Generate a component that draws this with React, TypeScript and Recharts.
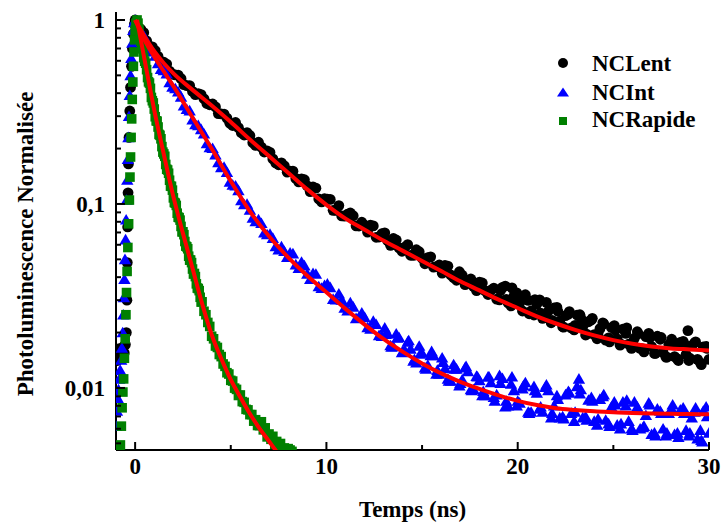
import React from 'react';
import { ComposedChart, Scatter, XAxis, YAxis, Legend } from 'recharts';

const FONT = '"Liberation Serif", "Times New Roman", Times, serif';

// time (ns), normalised PL  — NCLent (black circles)
const ncLentPts: [number, number][] = [
  [-0.98, 0.0152], [-0.93, 0.0141], [-0.87, 0.0163], [-0.81, 0.0148], [-0.75, 0.0158], [-0.69, 0.0145],
  [-0.63, 0.0167], [-0.57, 0.0155], [-0.51, 0.0172], [-0.46, 0.02], [-0.43, 0.03], [-0.41, 0.048],
  [-0.39, 0.075], [-0.37, 0.115], [-0.35, 0.165], [-0.32, 0.23], [-0.28, 0.32], [-0.24, 0.43],
  [-0.19, 0.56], [-0.14, 0.7], [-0.09, 0.84], [-0.04, 0.95],
  [0, 1.0], [0.3, 0.89], [0.6, 0.77], [0.9, 0.715], [1.2, 0.634], [1.5, 0.589], [1.8, 0.527], [2.1, 0.503],
  [2.4, 0.48], [2.7, 0.44], [3.0, 0.409], [3.3, 0.398], [3.6, 0.373], [3.9, 0.346], [4.2, 0.337], [4.5, 0.309],
  [4.8, 0.293], [5.1, 0.267], [5.4, 0.26], [5.7, 0.237], [6.0, 0.2355], [6.3, 0.208], [6.6, 0.2037], [6.9, 0.1945],
  [7.2, 0.1758], [7.5, 0.1633], [7.8, 0.161], [8.1, 0.151], [8.4, 0.1377], [8.7, 0.137], [9.0, 0.1253], [9.3, 0.1237],
  [9.6, 0.1064], [9.9, 0.1068], [10.2, 0.1059], [10.5, 0.0923], [10.8, 0.0861], [11.1, 0.0879], [11.4, 0.0863],
  [11.7, 0.0759], [12.0, 0.0766], [12.3, 0.0766], [12.6, 0.0659], [12.9, 0.0689], [13.2, 0.0632], [13.5, 0.0649],
  [13.8, 0.0577], [14.1, 0.0583], [14.4, 0.0526], [14.7, 0.0564], [15.0, 0.0507], [15.3, 0.0511], [15.6, 0.0454],
  [15.9, 0.0466], [16.2, 0.0463], [16.5, 0.0411], [16.8, 0.0385], [17.1, 0.041], [17.4, 0.0383], [17.7, 0.0355],
  [18.0, 0.0376], [18.3, 0.0337], [18.6, 0.034], [18.9, 0.0304], [19.2, 0.0352], [19.5, 0.029], [19.8, 0.0316],
  [20.1, 0.0289], [20.4, 0.0321], [20.7, 0.0262], [21.0, 0.0285], [21.3, 0.0239], [21.6, 0.0261], [21.9, 0.0272],
  [22.2, 0.0231], [22.5, 0.0247], [22.8, 0.0212], [23.1, 0.0249], [23.4, 0.0215], [23.7, 0.0229], [24.0, 0.0195],
  [24.3, 0.021], [24.6, 0.0182], [24.9, 0.0213], [25.2, 0.0185], [25.5, 0.0209], [25.8, 0.0173], [26.1, 0.0186],
  [26.4, 0.0164], [26.7, 0.019], [27.0, 0.0168], [27.3, 0.0191], [27.6, 0.0156], [27.9, 0.0172], [28.2, 0.0148],
  [28.5, 0.0177], [28.8, 0.0152], [28.9, 0.0205], [29.1, 0.017], [29.4, 0.0143], [29.7, 0.0167], [30.0, 0.0143],
];
const ncLentPtsB: [number, number][] = [
  [0.15, 0.918], [0.45, 0.853], [0.75, 0.721], [1.05, 0.682], [1.35, 0.592], [1.65, 0.576], [1.95, 0.5075],
  [2.25, 0.502], [2.55, 0.445], [2.85, 0.44], [3.15, 0.393], [3.45, 0.3926], [3.75, 0.3516], [4.05, 0.3496],
  [4.35, 0.31], [4.65, 0.3078], [4.95, 0.275], [5.25, 0.2773], [5.55, 0.2438], [5.85, 0.2443], [6.15, 0.2151],
  [6.45, 0.2166], [6.75, 0.1916], [7.05, 0.1907], [7.35, 0.1673], [7.65, 0.1673], [7.95, 0.1488], [8.25, 0.1508],
  [8.55, 0.1317], [8.85, 0.1354], [9.15, 0.1167], [9.45, 0.1219], [9.75, 0.1026], [10.05, 0.1062], [10.35, 0.0923],
  [10.65, 0.098], [10.95, 0.0859], [11.25, 0.0893], [11.55, 0.076], [11.85, 0.0796], [12.15, 0.0703], [12.45, 0.076],
  [12.75, 0.0661], [13.05, 0.0697], [13.35, 0.0596], [13.65, 0.0637], [13.95, 0.0553], [14.25, 0.0601],
  [14.55, 0.0525], [14.85, 0.055], [15.15, 0.0473], [15.45, 0.0516], [15.75, 0.0456], [16.05, 0.0421],
  [16.35, 0.0459], [16.65, 0.0397], [16.95, 0.0428], [17.25, 0.0364], [17.55, 0.0391], [17.85, 0.0338],
  [18.15, 0.0372], [18.45, 0.0322], [18.75, 0.0349], [19.05, 0.0301], [19.35, 0.0358], [19.65, 0.0279],
  [19.95, 0.0329], [20.25, 0.0262], [20.55, 0.0299], [20.85, 0.0249], [21.15, 0.0301], [21.45, 0.0244],
  [21.75, 0.0226], [22.05, 0.0274], [22.35, 0.0215], [22.65, 0.0252], [22.95, 0.0207], [23.25, 0.025],
  [23.55, 0.0194], [23.85, 0.0234], [24.15, 0.0185], [24.45, 0.0226], [24.75, 0.0187], [25.05, 0.0218],
  [25.35, 0.0171], [25.65, 0.0198], [25.95, 0.0164], [26.25, 0.0202], [26.55, 0.0163], [26.85, 0.0198],
  [27.15, 0.0154], [27.45, 0.0184], [27.75, 0.0147], [28.05, 0.0184], [28.35, 0.0144], [28.65, 0.0179],
  [28.95, 0.0141], [29.25, 0.0176], [29.55, 0.0137], [29.85, 0.0168],
];
const ncLentPtsC: [number, number][] = [
  [19.1, 0.0339], [19.4, 0.0303], [19.7, 0.035], [20.0, 0.0295], [20.3, 0.0314], [20.6, 0.0253], [20.9, 0.0302],
  [21.2, 0.0255], [21.5, 0.0292], [21.8, 0.0233], [22.1, 0.0261], [22.4, 0.0214], [22.7, 0.026], [23.0, 0.0219],
  [23.3, 0.024], [23.6, 0.0196], [23.9, 0.0239], [24.2, 0.0197], [24.5, 0.0223], [24.8, 0.0178], [25.1, 0.0206],
  [25.4, 0.0173], [25.7, 0.0212], [26.0, 0.0172], [26.3, 0.0197], [26.6, 0.0157], [26.9, 0.0187], [27.2, 0.0154],
  [27.5, 0.0188], [27.8, 0.0147], [28.1, 0.0174], [28.4, 0.0141], [28.7, 0.0174], [29.0, 0.0145], [29.3, 0.0178],
  [29.6, 0.0134], [29.9, 0.0164],
];

// NCInt (blue triangles)
const ncIntPts: [number, number][] = [
  [-0.99, 0.0062], [-0.95, 0.0075], [-0.91, 0.0088], [-0.87, 0.0098], [-0.83, 0.0112], [-0.78, 0.0125],
  [-0.73, 0.0142], [-0.69, 0.0165], [-0.65, 0.02], [-0.62, 0.025], [-0.59, 0.031], [-0.56, 0.039],
  [-0.53, 0.05], [-0.5, 0.064], [-0.47, 0.082], [-0.44, 0.105], [-0.41, 0.135], [-0.38, 0.175],
  [-0.35, 0.23], [-0.32, 0.3], [-0.28, 0.39], [-0.24, 0.5], [-0.2, 0.62], [-0.15, 0.75], [-0.1, 0.88], [-0.05, 0.97],
  [0, 1.0], [0.3, 0.871], [0.6, 0.731], [0.9, 0.673], [1.2, 0.581], [1.5, 0.532], [1.8, 0.457], [2.1, 0.424],
  [2.4, 0.382], [2.7, 0.327], [3.0, 0.287], [3.3, 0.2673], [3.6, 0.241], [3.9, 0.2028], [4.2, 0.1854], [4.5, 0.158],
  [4.8, 0.1486], [5.1, 0.127], [5.4, 0.1186], [5.7, 0.0994], [6.0, 0.0929], [6.3, 0.0803], [6.6, 0.0785], [6.9, 0.0683],
  [7.2, 0.0652], [7.5, 0.0564], [7.8, 0.0553], [8.1, 0.0543], [8.4, 0.0468], [8.7, 0.0484], [9.0, 0.0417], [9.3, 0.042],
  [9.6, 0.0356], [9.9, 0.0361], [10.2, 0.0352], [10.5, 0.0302], [10.8, 0.0301], [11.1, 0.0263], [11.4, 0.0276],
  [11.7, 0.0243], [12.0, 0.0242], [12.3, 0.0209], [12.6, 0.0222], [12.9, 0.0191], [13.2, 0.0198], [13.5, 0.0168],
  [13.8, 0.0188], [14.1, 0.016], [14.4, 0.0163], [14.7, 0.0137], [15.0, 0.0155], [15.3, 0.0133], [15.6, 0.015],
  [15.9, 0.0119], [16.2, 0.0128], [16.5, 0.0109], [16.8, 0.0127], [17.1, 0.0111], [17.4, 0.0123], [17.7, 0.0098],
  [18.0, 0.011], [18.3, 0.0091], [18.6, 0.0107], [18.9, 0.0092], [19.2, 0.0113], [19.5, 0.008], [19.8, 0.0097],
  [20.1, 0.0083], [20.4, 0.0107], [20.7, 0.0074], [21.0, 0.0094], [21.3, 0.0074], [21.6, 0.0097], [21.9, 0.008],
  [22.2, 0.0069], [22.5, 0.0092], [22.8, 0.0073], [23.1, 0.0102], [23.2, 0.0112], [23.4, 0.0069], [23.7, 0.0086],
  [24.0, 0.0066], [24.3, 0.0087], [24.6, 0.0067], [24.9, 0.0079], [25.2, 0.0063], [25.5, 0.0084], [25.8, 0.0066],
  [26.1, 0.0084], [26.4, 0.006], [26.7, 0.0071], [27.0, 0.0056], [27.3, 0.0077], [27.6, 0.006], [27.9, 0.0073],
  [28.2, 0.0056], [28.5, 0.0076], [28.8, 0.0059], [29.1, 0.0069], [29.4, 0.0053], [29.65, 0.0051], [29.7, 0.0075],
  [30.0, 0.0057],
];
const ncIntPtsB: [number, number][] = [
  [0.15, 0.906], [0.45, 0.818], [0.75, 0.681], [1.05, 0.637], [1.35, 0.54], [1.65, 0.51], [1.95, 0.4325],
  [2.25, 0.407], [2.55, 0.342], [2.85, 0.3217], [3.15, 0.2707], [3.45, 0.2543], [3.75, 0.2131], [4.05, 0.2009],
  [4.35, 0.1679], [4.65, 0.1585], [4.95, 0.1318], [5.25, 0.1256], [5.55, 0.1045], [5.85, 0.1], [6.15, 0.0839],
  [6.45, 0.0822], [6.75, 0.0697], [7.05, 0.0686], [7.35, 0.0587], [7.65, 0.0586], [7.95, 0.0514], [8.25, 0.0537],
  [8.55, 0.0447], [8.85, 0.0462], [9.15, 0.039], [9.45, 0.0416], [9.75, 0.0349], [10.05, 0.0368], [10.35, 0.0304],
  [10.65, 0.0325], [10.95, 0.0272], [11.25, 0.0291], [11.55, 0.0239], [11.85, 0.0256], [12.15, 0.0213],
  [12.45, 0.0231], [12.75, 0.0193], [13.05, 0.0212], [13.35, 0.017], [13.65, 0.0197], [13.95, 0.0156],
  [14.25, 0.0178], [14.55, 0.014], [14.85, 0.0169], [15.15, 0.0129], [15.45, 0.015], [15.75, 0.0119],
  [16.05, 0.0146], [16.35, 0.0112], [16.65, 0.0134], [16.95, 0.0103], [17.25, 0.0129], [17.55, 0.0098],
  [17.85, 0.0116], [18.15, 0.0091], [18.45, 0.0115], [18.75, 0.0089], [19.05, 0.0117], [19.35, 0.0079],
  [19.65, 0.0105], [19.95, 0.008], [20.25, 0.0099], [20.55, 0.0074], [20.85, 0.0102], [21.15, 0.0077],
  [21.45, 0.0101], [21.75, 0.0069], [22.05, 0.0091], [22.35, 0.007], [22.65, 0.0096], [22.95, 0.0066],
  [23.25, 0.0093], [23.55, 0.007], [23.85, 0.0089], [24.15, 0.0063], [24.45, 0.009], [24.75, 0.0064],
  [25.05, 0.0084], [25.35, 0.006], [25.65, 0.008], [25.95, 0.006], [26.25, 0.0079], [26.55, 0.0061],
  [26.85, 0.0083], [27.15, 0.0057], [27.45, 0.0075], [27.75, 0.0055], [28.05, 0.0077], [28.35, 0.0057],
  [28.65, 0.0078], [28.95, 0.0055], [29.25, 0.0074], [29.55, 0.0059], [29.85, 0.0079],
];
const ncIntPtsC: [number, number][] = [
  [13.1, 0.0196], [13.4, 0.0167], [13.7, 0.0187], [14.0, 0.0158], [14.3, 0.0181], [14.6, 0.0143], [14.9, 0.0153],
  [15.2, 0.0127], [15.5, 0.0158], [15.8, 0.0125], [16.1, 0.0138], [16.4, 0.0109], [16.7, 0.0127], [17.0, 0.0106],
  [17.3, 0.0131], [17.6, 0.0097], [17.9, 0.0115], [18.2, 0.0096], [18.5, 0.0115], [18.8, 0.0085], [19.1, 0.0106],
  [19.4, 0.0085], [19.7, 0.0115], [20.0, 0.0085], [20.3, 0.0103], [20.6, 0.0073], [20.9, 0.0097], [21.2, 0.0079],
  [21.5, 0.0104], [21.8, 0.0073], [22.1, 0.0087], [22.4, 0.0068], [22.7, 0.0094], [23.0, 0.0074], [23.3, 0.0098],
  [23.6, 0.0067], [23.9, 0.0085], [24.2, 0.0068], [24.5, 0.0092], [24.8, 0.0062], [25.1, 0.0081], [25.4, 0.0064],
  [25.7, 0.0086], [26.0, 0.0059], [26.3, 0.0076], [26.6, 0.0062], [26.9, 0.0081], [27.2, 0.0055], [27.5, 0.0073],
  [27.8, 0.0057], [28.1, 0.0081], [28.4, 0.0054], [28.7, 0.0073], [29.0, 0.0057], [29.3, 0.0078], [29.6, 0.0052],
  [29.9, 0.007],
];

// NCRapide (green squares)
const ncRapidePts: [number, number][] = [
  [-0.99, 0.0046], [-0.94, 0.0047], [-0.88, 0.0046], [-0.82, 0.0047], [-0.77, 0.0049], [-0.72, 0.0062],
  [-0.68, 0.0078], [-0.64, 0.0095], [-0.6, 0.0112], [-0.56, 0.0145], [-0.52, 0.0185], [-0.48, 0.025],
  [-0.45, 0.033], [-0.42, 0.043], [-0.38, 0.058], [-0.34, 0.078], [-0.3, 0.105], [-0.27, 0.14], [-0.24, 0.18],
  [-0.21, 0.23], [-0.18, 0.29], [-0.15, 0.37], [-0.12, 0.46], [-0.09, 0.56], [-0.06, 0.67], [-0.03, 0.78],
  [0.0, 0.88], [0.04, 0.96],
  [0.1, 1.0], [0.2, 0.892], [0.3, 0.766], [0.4, 0.697], [0.5, 0.597], [0.6, 0.537], [0.7, 0.461], [0.8, 0.425],
  [0.9, 0.364], [1.0, 0.328], [1.1, 0.283], [1.2, 0.262], [1.3, 0.236], [1.4, 0.205], [1.5, 0.187], [1.6, 0.164],
  [1.7, 0.153], [1.8, 0.1346], [1.9, 0.1247], [2.0, 0.1079], [2.1, 0.101], [2.2, 0.0891], [2.3, 0.0843], [2.4, 0.0755],
  [2.5, 0.0706], [2.6, 0.0625], [2.7, 0.0585], [2.8, 0.052], [2.9, 0.0496], [3.0, 0.0443], [3.1, 0.0419], [3.2, 0.0368],
  [3.3, 0.0347], [3.4, 0.0311], [3.5, 0.0294], [3.6, 0.0261], [3.7, 0.025], [3.8, 0.0227], [3.9, 0.0216], [4.0, 0.0191],
  [4.1, 0.0185], [4.2, 0.0169], [4.3, 0.0166], [4.4, 0.0152], [4.5, 0.0148], [4.6, 0.0135], [4.7, 0.0131], [4.8, 0.0121],
  [4.9, 0.0119], [5.0, 0.011], [5.1, 0.0109], [5.2, 0.00998], [5.3, 0.00982], [5.4, 0.0091], [5.5, 0.00916],
  [5.6, 0.00843], [5.7, 0.00835], [5.8, 0.00765], [5.9, 0.0076], [6.0, 0.00716], [6.1, 0.00717], [6.2, 0.0066],
  [6.3, 0.00672], [6.4, 0.00625], [6.5, 0.00624], [6.6, 0.00655], [6.7, 0.00592], [6.8, 0.00607], [6.9, 0.00542],
  [7.0, 0.00562], [7.1, 0.00526], [7.2, 0.00546], [7.3, 0.00493], [7.4, 0.00512], [7.5, 0.00473], [7.6, 0.00499],
  [7.7, 0.00463], [7.8, 0.00472], [7.9, 0.00449], [8.0, 0.00468], [8.1, 0.0046], [8.2, 0.00452],
];
const ncRapidePtsB: [number, number][] = [
  [0.15, 0.961], [0.25, 0.804], [0.35, 0.749], [0.45, 0.6245], [0.55, 0.582], [0.65, 0.4864], [0.75, 0.4539],
  [0.85, 0.3793], [0.95, 0.354], [1.05, 0.2979], [1.15, 0.2818], [1.25, 0.2388], [1.35, 0.226], [1.45, 0.1914],
  [1.55, 0.1816], [1.65, 0.1545], [1.75, 0.1469], [1.85, 0.125], [1.95, 0.1189], [2.05, 0.1019], [2.15, 0.0982],
  [2.25, 0.0847], [2.35, 0.0817], [2.45, 0.0705], [2.55, 0.0681], [2.65, 0.059], [2.75, 0.0571], [2.85, 0.0495],
  [2.95, 0.048], [3.05, 0.0416], [3.15, 0.0403], [3.25, 0.0349], [3.35, 0.0338], [3.45, 0.0293],
];

// fitted curves (red)
const ncLentFit: [number, number][] = [
  [0, 1], [0.5, 0.813], [1, 0.676], [1.5, 0.582], [2, 0.513], [3, 0.417], [4, 0.343], [5, 0.279], [6, 0.224],
  [7, 0.182], [8, 0.148], [9, 0.12], [10, 0.0989], [11, 0.0832], [12, 0.0724], [13, 0.0631], [14, 0.0556],
  [15, 0.049], [16, 0.0432], [17, 0.038], [18, 0.0339], [19, 0.0302], [20, 0.0272], [21, 0.0245], [22, 0.0224],
  [23, 0.0207], [24, 0.0193], [25, 0.0182], [26, 0.0174], [27, 0.0168], [28, 0.0164], [29, 0.0162], [30, 0.016],
];
const ncIntFit: [number, number][] = [
  [0, 1], [0.5, 0.776], [1, 0.631], [1.5, 0.525], [2, 0.437], [3, 0.295], [4, 0.2], [5, 0.133], [6, 0.0912],
  [7, 0.0668], [8, 0.0513], [9, 0.0407], [10, 0.0331], [11, 0.0269], [12, 0.0221], [13, 0.0184], [14, 0.0157],
  [15, 0.0136], [16, 0.012], [17, 0.0108], [18, 0.00989], [19, 0.00912], [20, 0.00851], [21, 0.00807],
  [22, 0.00776], [23, 0.00759], [24, 0.00746], [25, 0.00738], [26, 0.00731], [27, 0.00726], [28, 0.00723],
  [29, 0.00721], [30, 0.0072],
];
const ncRapideFit: [number, number][] = [
  [0.1, 1], [0.5, 0.603], [1, 0.324], [1.5, 0.186], [2, 0.1096], [2.5, 0.0692], [3, 0.0447], [3.5, 0.0288],
  [4, 0.0195], [4.5, 0.01445], [5, 0.0111], [5.5, 0.00891], [6, 0.00724], [6.5, 0.00603], [7, 0.00513],
  [7.5, 0.00437], [8, 0.0038],
];

const xTicks = [0, 5, 10, 15, 20, 25, 30];
const xLabels = [0, 10, 20, 30];
const yMajor = [0.01, 0.1, 1];
const yMajorLabels = ['0,01', '0,1', '1'];
const yTicks = [
  0.005, 0.006, 0.007, 0.008, 0.009, 0.01, 0.02, 0.03, 0.04, 0.05, 0.06, 0.07, 0.08, 0.09,
  0.1, 0.2, 0.3, 0.4, 0.5, 0.6, 0.7, 0.8, 0.9, 1,
];
const seriesNames = ['NCLent', 'NCInt', 'NCRapide'];

const toRows = (pts: [number, number][]) => pts.map(([t, v]) => ({ t, v }));

const isMajorY = (v: number) => yMajor.some((m) => Math.abs(m - v) < 1e-9);
const yLabel = (v: number) => {
  const i = yMajor.findIndex((m) => Math.abs(m - v) < 1e-9);
  return i >= 0 ? yMajorLabels[i] : '';
};

const txt = { fontFamily: FONT, fontWeight: 700, fontSize: 23, fill: '#000' } as const;

const BottomTick = (p: any) => {
  const { x, y, payload } = p;
  const major = xLabels.includes(payload.value);
  return (
    <g>
      <line x1={x} x2={x} y1={y} y2={y - (major ? 8 : 5)} stroke="#000" strokeWidth={2} />
      {major && (
        <text x={x} y={y + 24} textAnchor="middle" style={txt}>{payload.value}</text>
      )}
    </g>
  );
};
const TopTick = (p: any) => {
  const { x, y, payload } = p;
  const major = xLabels.includes(payload.value);
  return <line x1={x} x2={x} y1={y} y2={y + (major ? 8 : 5)} stroke="#000" strokeWidth={2} />;
};
const LeftTick = (p: any) => {
  const { x, y, payload } = p;
  const major = isMajorY(payload.value);
  return (
    <g>
      <line x1={x} x2={x + (major ? 9 : 5)} y1={y} y2={y} stroke="#000" strokeWidth={2} />
      {major && (
        <text x={x - 11} y={y + 8} textAnchor="end" style={txt}>{yLabel(payload.value)}</text>
      )}
    </g>
  );
};
const RightTick = (p: any) => {
  const { x, y, payload } = p;
  const major = isMajorY(payload.value);
  return <line x1={x} x2={x - (major ? 9 : 5)} y1={y} y2={y} stroke="#000" strokeWidth={2} />;
};

const CircleShape = (p: any) => <circle cx={p.cx} cy={p.cy} r={5.4} fill="#000000" />;
const TriShape = (p: any) => (
  <polygon
    points={`${p.cx},${p.cy - 5.8} ${p.cx + 6.2},${p.cy + 4.8} ${p.cx - 6.2},${p.cy + 4.8}`}
    fill="#0000ff"
  />
);
const SquareShape = (p: any) => (
  <rect x={p.cx - 4.8} y={p.cy - 4.8} width={9.6} height={9.6} fill="#008000" />
);
const NoShape = () => <g />;

const LegendBox = () => (
  <svg width={170} height={95}>
    <circle cx={15} cy={15} r={5} fill="#000" />
    <polygon points="15,39.5 21,48.5 9,48.5" fill="#0000ff" />
    <rect x={11} y={69} width={8} height={8} fill="#008000" />
    <text x={44} y={22.5} style={txt}>{seriesNames[0]}</text>
    <text x={44} y={51.5} style={txt}>{seriesNames[1]}</text>
    <text x={44} y={78.5} style={txt}>{seriesNames[2]}</text>
  </svg>
);

const fitLine = { stroke: '#ff0000', strokeWidth: 4, fill: 'none' };

export default function App() {
  return (
    <div style={{ position: 'absolute', left: 0, top: 0, width: 721, height: 527, background: '#fff' }}>
      <ComposedChart width={721} height={527} margin={{ top: 12, right: 12, bottom: 17, left: 0 }}>
        <XAxis
          xAxisId="b"
          dataKey="t"
          type="number"
          domain={[-1, 30]}
          allowDataOverflow
          ticks={xTicks}
          interval={0}
          tickSize={0}
          tickMargin={0}
          height={60}
          axisLine={{ stroke: '#000', strokeWidth: 2 }}
          tick={<BottomTick />}
          label={(props: any) => {
            const vb = props.viewBox;
            return (
              <text x={vb.x + vb.width / 2} y={vb.y + 67} textAnchor="middle" style={txt}>
                Temps (ns)
              </text>
            );
          }}
        />
        <XAxis
          xAxisId="top"
          orientation="top"
          dataKey="t"
          type="number"
          domain={[-1, 30]}
          allowDataOverflow
          ticks={xTicks}
          interval={0}
          tickSize={0}
          tickMargin={0}
          height={0}
          axisLine={{ stroke: '#000', strokeWidth: 2 }}
          tick={<TopTick />}
        />
        <YAxis
          yAxisId="l"
          scale="log"
          type="number"
          domain={[0.0046, 1.105]}
          allowDataOverflow
          ticks={yTicks}
          interval={0}
          tickSize={0}
          tickMargin={0}
          width={116}
          axisLine={{ stroke: '#000', strokeWidth: 2 }}
          tick={<LeftTick />}
          label={() => {
            const cx = 33;
            const cy = 244;
            return (
              <text x={cx} y={cy} transform={`rotate(-90 ${cx} ${cy})`} textAnchor="middle" style={txt}>
                Photoluminescence Normalisée
              </text>
            );
          }}
        />
        <YAxis
          yAxisId="r"
          orientation="right"
          scale="log"
          type="number"
          domain={[0.0046, 1.105]}
          allowDataOverflow
          ticks={yTicks}
          interval={0}
          tickSize={0}
          tickMargin={0}
          width={0}
          axisLine={{ stroke: '#000', strokeWidth: 2 }}
          tick={<RightTick />}
        />
        <Legend
          layout="vertical"
          align="center"
          verticalAlign="middle"
          wrapperStyle={{ top: 48, left: 548, width: 170, height: 95 }}
          content={() => <LegendBox />}
        />
        <Scatter
          name={seriesNames[0]}
          xAxisId="b"
          yAxisId="l"
          data={toRows([...ncLentPts, ...ncLentPtsB, ...ncLentPtsC])}
          dataKey="v"
          shape={<CircleShape />}
          isAnimationActive={false}
        />
        <Scatter
          name={seriesNames[1]}
          xAxisId="b"
          yAxisId="l"
          data={toRows([...ncIntPts, ...ncIntPtsB, ...ncIntPtsC])}
          dataKey="v"
          shape={<TriShape />}
          isAnimationActive={false}
        />
        <Scatter
          name={seriesNames[2]}
          xAxisId="b"
          yAxisId="l"
          data={toRows([...ncRapidePts, ...ncRapidePtsB])}
          dataKey="v"
          shape={<SquareShape />}
          isAnimationActive={false}
        />
        <Scatter
          name="fitLent"
          xAxisId="b"
          yAxisId="l"
          data={toRows(ncLentFit)}
          dataKey="v"
          line={fitLine}
          lineType="joint"
          lineJointType="monotoneX"
          shape={<NoShape />}
          legendType="none"
          isAnimationActive={false}
        />
        <Scatter
          name="fitInt"
          xAxisId="b"
          yAxisId="l"
          data={toRows(ncIntFit)}
          dataKey="v"
          line={fitLine}
          lineType="joint"
          lineJointType="monotoneX"
          shape={<NoShape />}
          legendType="none"
          isAnimationActive={false}
        />
        <Scatter
          name="fitRapide"
          xAxisId="b"
          yAxisId="l"
          data={toRows(ncRapideFit)}
          dataKey="v"
          line={fitLine}
          lineType="joint"
          lineJointType="monotoneX"
          shape={<NoShape />}
          legendType="none"
          isAnimationActive={false}
        />
      </ComposedChart>
    </div>
  );
}
